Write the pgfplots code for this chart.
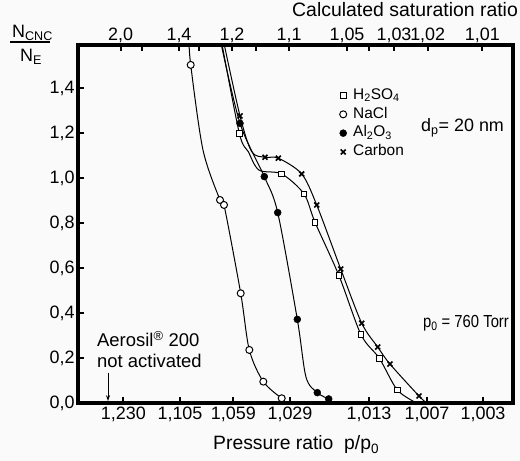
\documentclass[border=0pt]{standalone}
\usepackage{fontspec}
\setmainfont{Liberation Sans}
\usepackage{pgfplots}
\pgfplotsset{compat=1.18}
\usetikzlibrary{arrows.meta}
\definecolor{bg}{RGB}{250,250,250}
\begin{document}
\begin{tikzpicture}[x=1bp,y=1bp]
\fill[bg] (0,0) rectangle (520,461);
\path[use as bounding box] (0,0) rectangle (520,461);
\pgfplotsset{
  base/.style={at={(78bp,58bp)}, anchor=south west, scale only axis,
    width=435bp, height=358bp, xmin=78, xmax=513, ymin=0, ymax=1.5925,
    tick align=inside, major tick length=6bp,
    tick style={line width=2bp, black},
    tick label style={font=\fontsize{18}{20}\selectfont},
  },
}
% top axis
\begin{axis}[base, axis x line*=top, axis y line=none,
  xtick={120.7,141.7,179,199,232,256,289,347,369,394,427.7,482.3},
  xticklabels={{2,0},{},{1,4},{},{1,2},{},{1,1},{1,05},{},{1,03},{1,02},{1,01}},
  xticklabel style={yshift=-1bp},
]
\addplot[draw=none] coordinates {(100,0.5)};
\end{axis}
% main axis
\begin{axis}[base,
  xtick pos=lower, ytick pos=left,
  xtick={123.3,180,233.3,290,369,427,483},
  xticklabels={{1,230},{1,105},{1,059},{1,029},{1,013},{1,007},{1,003}},
  ytick={0,0.2,0.4,0.6,0.8,1.0,1.2,1.4},
  yticklabels={{0,0},{0,2},{0,4},{0,6},{0,8},{1,0},{1,2},{1,4}},
  legend style={at={(axis cs:339,1.403)}, anchor=north west, draw=none, fill=none,
    inner sep=0pt, font=\fontsize{15.5}{17}\selectfont, row sep=3.3bp,
    nodes={inner sep=0.5bp, text height=11bp, text depth=3.5bp}},
  legend cell align=left,
  legend image code/.code={\draw[#1] plot coordinates {(0bp,0bp)}; \path[draw=none] (-4bp,0bp) -- (9.5bp,0bp);},
]
% curves
\addplot[smooth, tension=0.5, line width=1bp, forget plot] coordinates {
 (189,1.62) (190.7,1.504) (203,1.125) (220,0.903) (224,0.881) (240.7,0.488) (249.3,0.236) (263.3,0.095) (281.7,0.021)};
\addplot[smooth, tension=0.5, line width=1bp, forget plot] coordinates {
 (220,1.62) (240,1.244) (264.3,1.007) (277.7,0.847) (297.3,0.372) (306,0.115) (317.3,0.046) (328.7,0.018)};
\addplot[smooth, tension=0.5, line width=1bp, forget plot] coordinates {
 (221,1.62) (239.3,1.200) (248.3,1.118) (259,1.036) (281.7,1.019) (304,0.930) (315,0.804) (339,0.566) (361,0.304) (379.3,0.199) (397.3,0.058) (416.7,0.0)};
\addplot[smooth, tension=0.5, line width=1bp, forget plot] coordinates {
 (223,1.62) (240,1.277) (251.7,1.118) (265,1.093) (278.3,1.089) (301.7,1.019) (316.7,0.881) (340.7,0.596) (361.7,0.355) (377.7,0.249) (390,0.173) (419,0.031) (426.7,0.0)};
% marks
\addplot[only marks, mark=square*, mark size=2.8bp, mark options={fill=white, line width=1bp}] coordinates {
 (239.3,1.200) (281.7,1.019) (304,0.930) (315,0.804) (339,0.566) (361,0.304) (379.3,0.199) (397.3,0.058)};
\addlegendentry{H\textsubscript{2}SO\textsubscript{4}}
\addplot[only marks, mark=*, mark size=3.5bp, mark options={fill=white, line width=1bp}] coordinates {
 (190.7,1.504) (220,0.903) (224,0.881) (240.7,0.488) (249.3,0.236) (263.3,0.095) (281.7,0.021)};
\addlegendentry{NaCl}
\addplot[only marks, mark=*, mark size=3.5bp, mark options={fill=black}] coordinates {
 (240,1.244) (264.3,1.007) (277.7,0.847) (297.3,0.372) (317.3,0.046) (328.7,0.018)};
\addlegendentry{Al\textsubscript{2}O\textsubscript{3}}
\addplot[only marks, mark=x, mark size=3.5bp, mark options={line width=1.6bp}] coordinates {
 (240,1.277) (265,1.093) (278.3,1.089) (301.7,1.019) (316.7,0.881) (340.7,0.596) (361.7,0.355) (377.7,0.249) (390,0.173) (419,0.031)};
\addlegendentry{Carbon}
\draw[-{Stealth[length=6bp,width=4bp]}, line width=1bp] (axis cs:108,0.135) -- (axis cs:108,0.008);
\end{axis}
\draw[line width=3.5bp] (78,58) rectangle (513,416);
% texts
\node[anchor=base west, inner sep=0pt, font=\fontsize{19.5}{22}\selectfont] at (292,444) {Calculated saturation ratio};
\node[anchor=base west, inner sep=0pt, font=\fontsize{19.4}{22}\selectfont] at (213,11) {Pressure ratio\ \ p/p\textsubscript{0}};
\node[anchor=base west, inner sep=0pt, font=\fontsize{18}{20}\selectfont] at (12,423) {N\textsubscript{CNC}};
\draw[line width=1.2bp] (10,419) -- (50,419);
\node[anchor=base west, inner sep=0pt, font=\fontsize{18}{20}\selectfont] at (20,399) {N\textsubscript{E}};
\node[anchor=base west, inner sep=0pt, font=\fontsize{18.5}{20}\selectfont] at (97,114) {Aerosil\textsuperscript{®} 200};
\node[anchor=base west, inner sep=0pt, font=\fontsize{18.5}{20}\selectfont] at (97,93) {not activated};
\node[anchor=base west, inner sep=0pt, font=\fontsize{18}{20}\selectfont] at (421,329) {d\textsubscript{p}= 20 nm};
\node[anchor=base west, inner sep=0pt, xscale=0.85, font=\fontsize{17.5}{20}\selectfont] at (423,133) {p\textsubscript{0} = 760 Torr};
\end{tikzpicture}
\end{document}
